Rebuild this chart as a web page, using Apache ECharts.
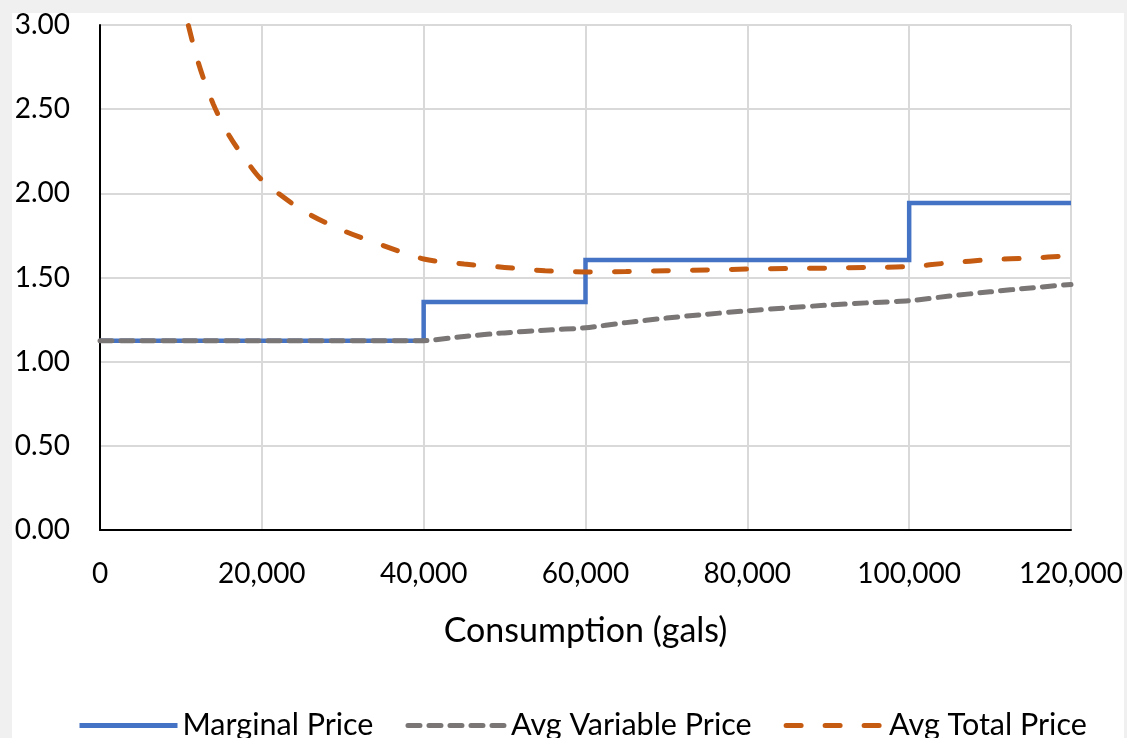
<!DOCTYPE html>
<html>
<head>
<meta charset="utf-8">
<script src="https://cdn.jsdelivr.net/npm/echarts@6/dist/echarts.min.js"></script>
<style>
  html, body { margin: 0; padding: 0; background: #f0f0f0; width: 1127px; height: 738px; overflow: hidden; }
  #chart { position: absolute; left: 12px; top: 13px; width: 1112px; height: 725px; background: #fff; }
</style>
</head>
<body>
<div id="chart"></div>
<script>
// step points (gallons, $/gal)
const marginalX = [0, 40000, 60000, 100000, 120000];
const marginalY = [1.125, 1.354, 1.604, 1.943, 1.943];

const avgVarX = [0, 40000, 45000, 50000, 55000, 60000, 65000, 70000, 75000, 80000,
  85000, 90000, 95000, 100000, 105000, 110000, 115000, 120000];
const avgVarY = [1.125, 1.125, 1.150, 1.171, 1.187, 1.201, 1.232, 1.259, 1.282, 1.302,
  1.320, 1.336, 1.350, 1.362, 1.390, 1.415, 1.438, 1.459];

const avgTotalX = [6000, 8000, 10000, 12000, 14000, 16000, 18000, 20000, 25000, 30000,
  35000, 40000, 45000, 50000, 55000, 60000, 65000, 70000, 75000, 80000, 85000, 90000,
  95000, 100000, 105000, 110000, 115000, 120000];
const avgTotalY = [4.60, 3.80, 3.20, 2.80, 2.53, 2.34, 2.20, 2.08, 1.90, 1.78,
  1.69, 1.61, 1.58, 1.56, 1.54, 1.533, 1.535, 1.54, 1.545, 1.55, 1.553, 1.556,
  1.56, 1.565, 1.587, 1.606, 1.615, 1.63];

const seriesNames = ["Marginal Price", "Avg Variable Price", "Avg Total Price"];
const xTicks = [0, 20000, 40000, 60000, 80000, 100000, 120000];

function zip(xs, ys) {
  return xs.map((x, i) => [x, ys[i]]);
}

const font = "Lato, 'Open Sans', sans-serif";
let chart = echarts.init(document.getElementById("chart"));

let options = {
  animation: false,
  backgroundColor: "#fff",
  textStyle: { fontFamily: font },
  grid: {
    left: 88,
    right: 53,
    top: 12,
    bottom: 208,
    containLabel: false,
    outerBoundsMode: "none",
  },
  legend: {
    data: seriesNames,
    left: 60,
    top: 692,
    itemWidth: 98,
    itemHeight: 28,
    itemGap: 32,
    itemStyle: { opacity: 0 },
    lineStyle: { width: 5 },
    textStyle: { fontSize: 30.5, color: "#000", fontFamily: font },
  },
  xAxis: {
    type: "value",
    min: xTicks[0],
    max: xTicks[xTicks.length - 1],
    interval: 20000,
    name: "Consumption (gals)",
    nameLocation: "middle",
    nameGap: 84,
    nameTextStyle: { fontSize: 34, color: "#000", fontFamily: font },
    axisLine: { lineStyle: { color: "#000", width: 2 } },
    axisTick: { show: false },
    axisLabel: {
      margin: 30,
      fontSize: 28,
      color: "#000",
      fontFamily: font,
      formatter: (v) => v.toLocaleString("en-US"),
    },
    splitLine: { show: true, lineStyle: { color: "#d9d9d9", width: 2 } },
  },
  yAxis: {
    type: "value",
    min: 0,
    max: 3,
    interval: 0.5,
    axisLine: { show: true, lineStyle: { color: "#000", width: 2 } },
    axisTick: { show: false },
    axisLabel: {
      margin: 30,
      fontSize: 28,
      color: "#000",
      fontFamily: font,
      formatter: (v) => v.toFixed(2),
    },
    splitLine: { lineStyle: { color: "#d9d9d9", width: 2 } },
  },
  series: [
    {
      name: seriesNames[0],
      type: "line",
      step: "end",
      symbol: "none",
      data: zip(marginalX, marginalY),
      lineStyle: { color: "#4472c4", width: 4.5, join: "miter" },
      itemStyle: { color: "#4472c4" },
    },
    {
      name: seriesNames[1],
      type: "line",
      symbol: "none",
      smooth: 0.2,
      data: zip(avgVarX, avgVarY),
      lineStyle: { color: "#7a7676", width: 5, type: [12, 9], cap: "round" },
      itemStyle: { color: "#7a7676" },
    },
    {
      name: seriesNames[2],
      type: "line",
      symbol: "none",
      smooth: 0.3,
      clip: true,
      data: zip(avgTotalX, avgTotalY),
      lineStyle: { color: "#c55a11", width: 5, type: [15, 24], cap: "round" },
      itemStyle: { color: "#c55a11" },
    },
  ],
};

chart.setOption(options);
</script>
</body>
</html>
